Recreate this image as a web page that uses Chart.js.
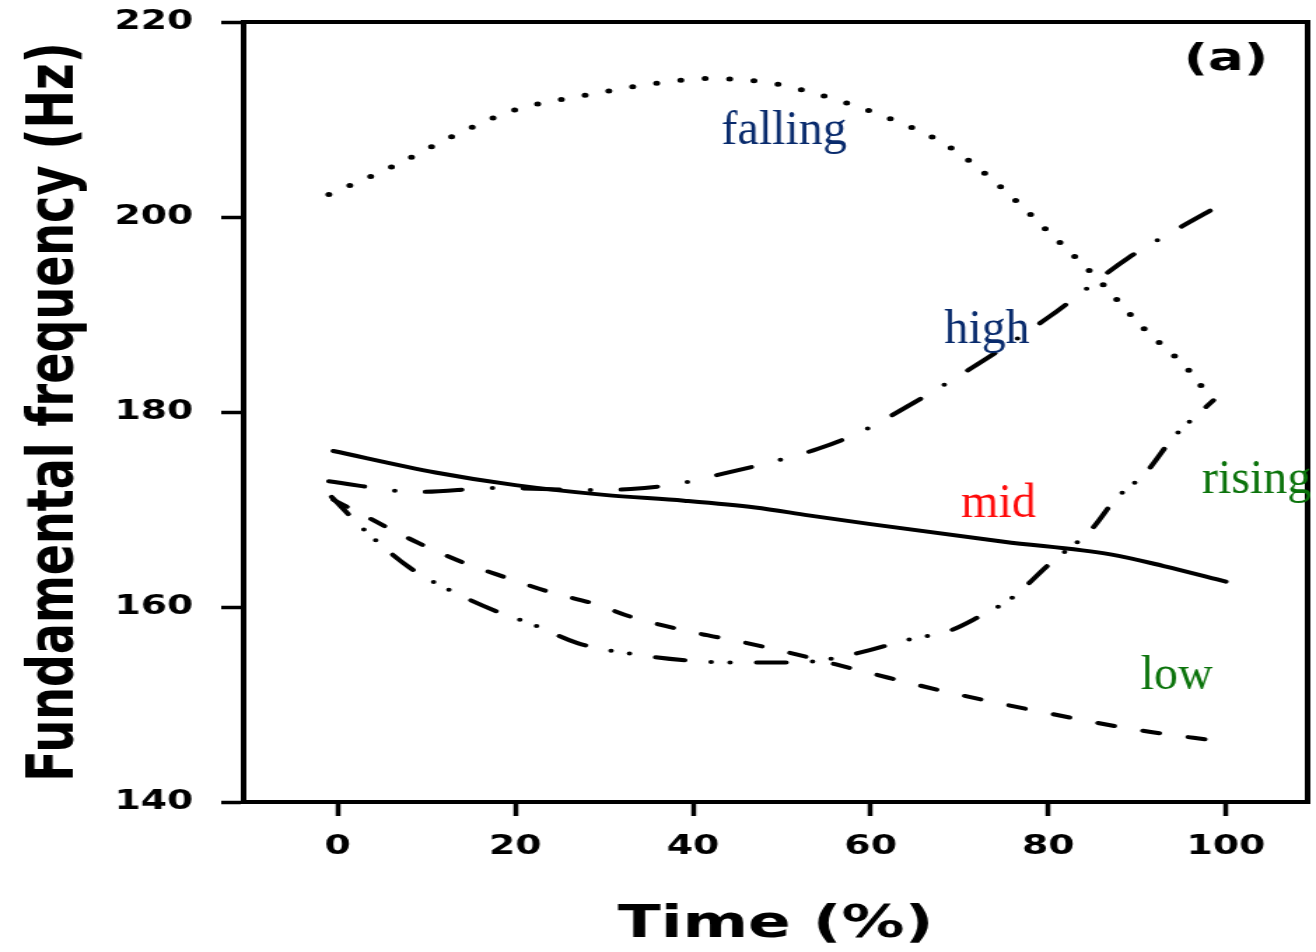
<!DOCTYPE html>
<html>
<head>
<meta charset="utf-8">
<title>Fundamental frequency (a)</title>
<script src="https://cdn.jsdelivr.net/npm/chart.js@4.4.1/dist/chart.umd.min.js"></script>
<style>
  html, body { margin: 0; padding: 0; background: #fff; overflow: hidden; }
</style>
</head>
<body>
<!-- the scanned figure is stretched sideways, so the canvas is drawn narrow and shown wide -->
<canvas id="myChart" width="940" height="952" style="display:block;width:1316px;height:952px"></canvas>
<script>
const timeTicks = [0, 20, 40, 60, 80, 100];
const freqTicks = [140, 160, 180, 200, 220];

const fallingTime = [-1, 6, 13, 20, 28, 35, 42, 49, 54, 61, 68.5, 74.5, 80, 85.5, 90.5, 96, 98.4];
const fallingHz = [202.3, 205.1, 208.3, 211.0, 212.5, 213.6, 214.2, 213.7, 212.6, 210.5, 207.4, 203.2, 198.5, 193.7, 188.8, 184.1, 181.2];

const highTime = [-1, 9, 18, 28, 33, 38, 44, 49, 54, 59, 64, 71, 80, 89, 94, 99.5];
const highHz = [172.9, 171.8, 172.2, 172.0, 172.1, 172.6, 173.8, 174.9, 176.2, 178.0, 180.5, 184.3, 189.7, 195.8, 198.5, 201.3];

const midTime = [-0.5, 11, 20, 30, 39, 47, 53, 60, 75, 87, 93, 100];
const midHz = [176.0, 173.8, 172.5, 171.5, 170.9, 170.2, 169.4, 168.5, 166.7, 165.4, 164.2, 162.6];

const lowTime = [-0.5, 4, 9, 14, 19, 24, 29, 33, 40, 45, 50, 60, 69, 80, 90, 99.5];
const lowHz = [171.0, 168.9, 166.6, 164.6, 163.0, 161.5, 160.3, 159.0, 157.4, 156.5, 155.5, 153.2, 151.2, 149.1, 147.4, 146.2];

const risingTime = [-0.7, 3, 8, 12, 18, 22, 27, 33, 41, 45, 51, 55, 60, 64, 69, 72, 76, 80, 85, 87.5, 91, 94, 97, 98.6];
const risingHz = [171.3, 167.9, 164.1, 162.0, 159.5, 158.2, 156.3, 155.2, 154.4, 154.3, 154.3, 154.6, 155.6, 156.6, 157.6, 158.9, 161.0, 164.3, 168.1, 171.0, 173.8, 177.3, 179.9, 181.2];

const STRETCH = 1316 / 940;

// text written on the figure, placed in data units
const notes = [
  {text: 'falling', x: 43.2, y: 207.5, color: '#082a6c'},
  {text: 'high', x: 68.3, y: 187.1, color: '#082a6c'},
  {text: 'mid', x: 70.2, y: 169.2, color: '#ff0a0a'},
  {text: 'rising', x: 97.3, y: 171.7, color: '#0b730b'},
  {text: 'low', x: 90.4, y: 151.6, color: '#0b730b'}
];

function toPoints(xs, ys) {
  return xs.map((x, i) => ({x: x, y: ys[i]}));
}

const framePlugin = {
  id: 'frame',
  afterDatasetsDraw(chart) {
    const {ctx, chartArea} = chart;
    ctx.save();
    ctx.strokeStyle = '#000';
    ctx.lineWidth = 4;
    ctx.strokeRect(chartArea.left, chartArea.top, chartArea.right - chartArea.left, chartArea.bottom - chartArea.top);
    ctx.restore();
  }
};

const notesPlugin = {
  id: 'notes',
  afterDraw(chart) {
    const ctx = chart.ctx;
    const xs = chart.scales.x;
    const ys = chart.scales.y;

    // panel letter, in the plot's own font
    ctx.save();
    ctx.font = 'bold 38px "DejaVu Sans"';
    ctx.fillStyle = '#000';
    ctx.textAlign = 'center';
    ctx.fillText('(a)', xs.getPixelForValue(100), ys.getPixelForValue(215.1));
    ctx.restore();

    notes.forEach(n => {
      ctx.save();
      ctx.translate(xs.getPixelForValue(n.x), ys.getPixelForValue(n.y));
      ctx.scale(1 / STRETCH, 1);
      ctx.font = '48px "Liberation Serif"';
      ctx.fillStyle = n.color;
      ctx.textAlign = 'left';
      ctx.textBaseline = 'alphabetic';
      ctx.fillText(n.text, 0, 0);
      ctx.restore();
    });
  }
};

function curve(label, xs, ys, dash, width) {
  return {
    label: label,
    data: toPoints(xs, ys),
    borderColor: '#000',
    borderWidth: width || 4,
    borderDash: dash,
    borderCapStyle: 'round',
    borderJoinStyle: 'round',
    cubicInterpolationMode: 'monotone',
    pointRadius: 0,
    fill: false
  };
}

function renderF0Chart() {
  const chartLayout = document.getElementById('myChart');

  Chart.defaults.font.family = '"DejaVu Sans", Verdana, sans-serif';
  Chart.defaults.color = '#000';

  return new Chart(chartLayout, {
    type: 'line',
    data: {
      datasets: [
        curve('falling', fallingTime, fallingHz, [0, 17.5], 5),
        curve('high', highTime, highHz, [26, 22, 0, 22]),
        curve('mid', midTime, midHz, []),
        curve('low', lowTime, lowHz, [12, 21]),
        curve('rising', risingTime, risingHz, [21, 19, 0, 13.5, 0, 19])
      ]
    },
    options: {
      responsive: false,
      devicePixelRatio: 1,
      animation: false,
      layout: {
        padding: {top: 22, right: 6, bottom: 0, left: 0}
      },
      plugins: {
        legend: {display: false},
        tooltip: {enabled: false}
      },
      scales: {
        x: {
          type: 'linear',
          min: -10.6,
          max: 109.2,
          afterBuildTicks: s => { s.ticks = timeTicks.map(v => ({value: v})); },
          afterFit: s => { s.height = 150; s.paddingLeft = 0; s.paddingRight = 0; },
          grid: {drawOnChartArea: false, drawTicks: true, tickLength: 14, tickWidth: 3.5, tickColor: '#000'},
          border: {display: true, color: '#000', width: 4},
          ticks: {color: '#000', padding: 15, maxRotation: 0, autoSkip: false, font: {size: 27, weight: 'bold'}},
          title: {
            display: true,
            text: 'Time (%)',
            color: '#000',
            font: {size: 45, weight: 'bold', lineHeight: 1},
            padding: {top: 0, bottom: 4}
          }
        },
        y: {
          type: 'linear',
          min: 140,
          max: 220,
          afterBuildTicks: s => { s.ticks = freqTicks.map(v => ({value: v})); },
          afterFit: s => { s.width = 174; s.paddingTop = 0; s.paddingBottom = 0; },
          grid: {drawOnChartArea: false, drawTicks: true, tickLength: 16, tickWidth: 3.5, tickColor: '#000'},
          border: {display: true, color: '#000', width: 4},
          ticks: {color: '#000', padding: 20, font: {size: 27, weight: 'bold'}},
          title: {
            display: true,
            text: 'Fundamental frequency (Hz)',
            color: '#000',
            font: {size: 46, weight: 'bold', lineHeight: 1},
            padding: {top: 17, bottom: 0}
          }
        }
      }
    },
    plugins: [framePlugin, notesPlugin]
  });
}

renderF0Chart();
</script>
</body>
</html>
